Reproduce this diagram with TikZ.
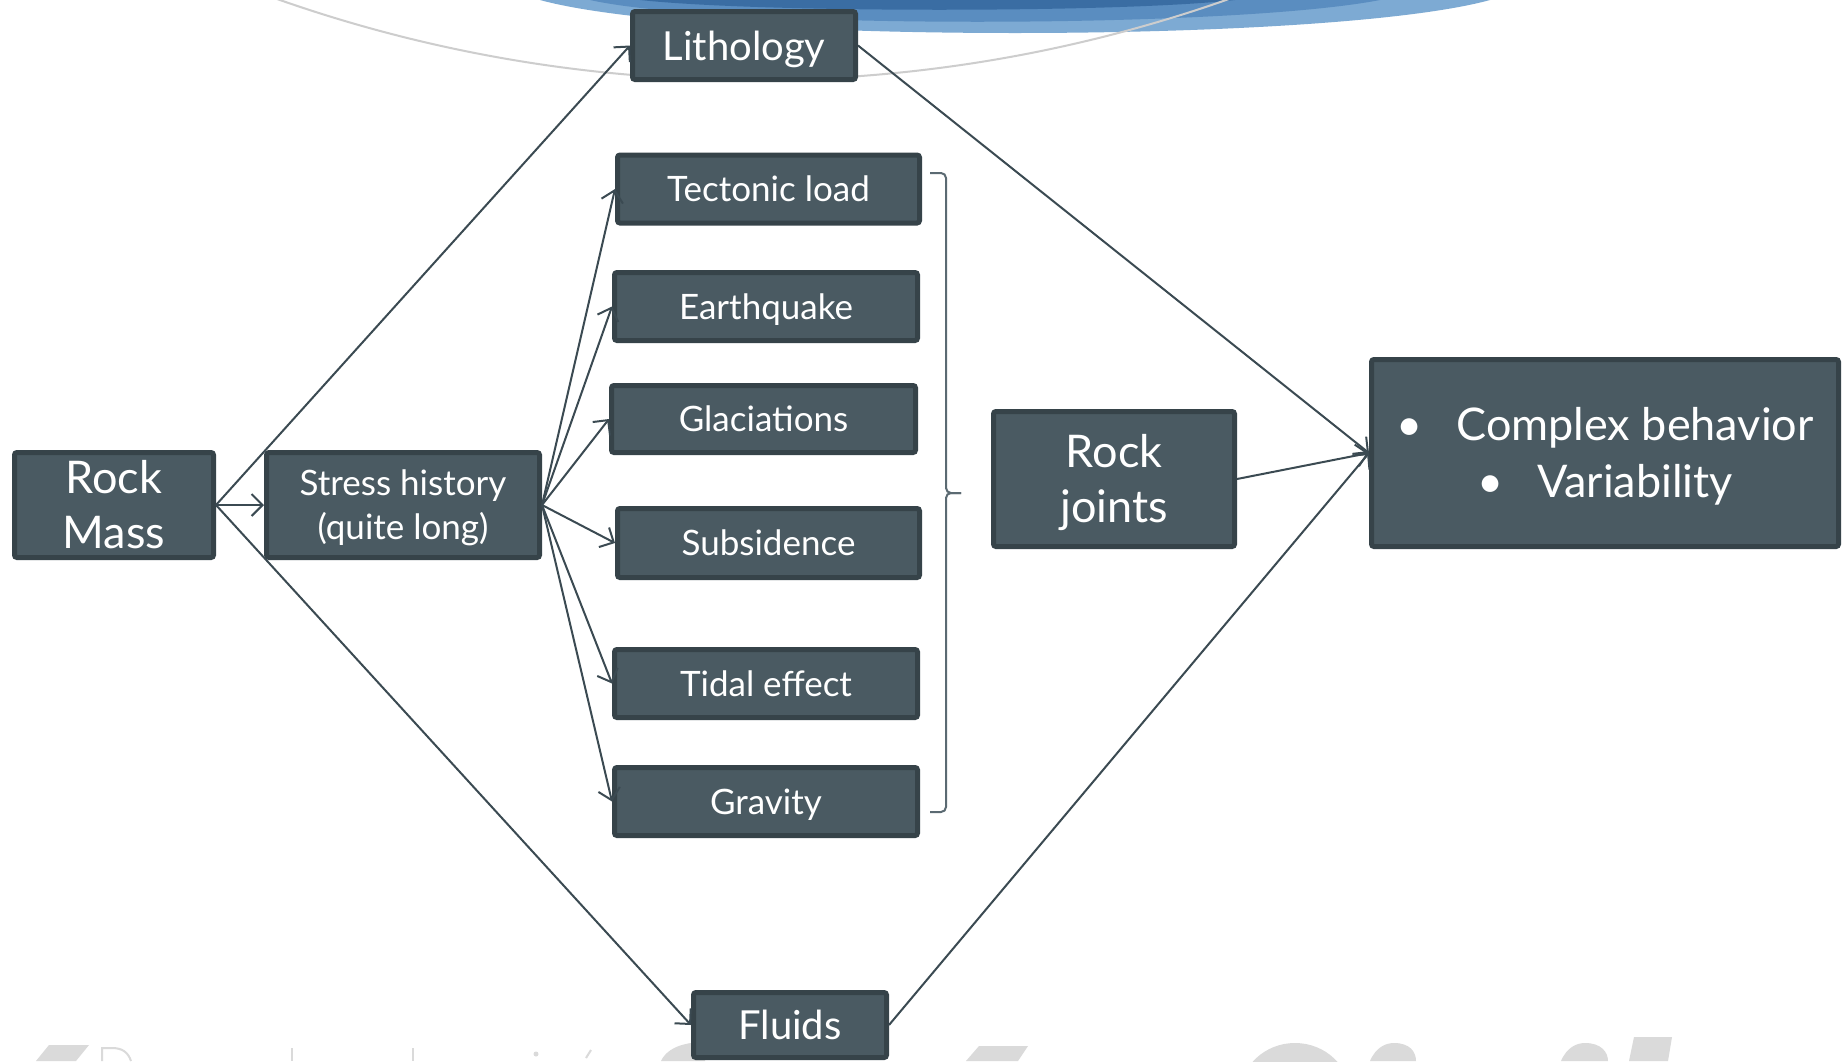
\documentclass[tikz,border=0pt]{standalone}
\usepackage{fontspec}
\setmainfont{Lato}
\usetikzlibrary{arrows.meta}
\definecolor{boxfill}{HTML}{4A5A62}
\definecolor{boxedge}{HTML}{364349}
\definecolor{linecol}{HTML}{3B4A52}
\definecolor{bluelight}{HTML}{7DAAD3}
\definecolor{bluemid}{HTML}{5A8DC0}
\definecolor{bluedark}{HTML}{3A6DA3}
\definecolor{wmgray}{HTML}{DADADA}
\definecolor{ringgray}{HTML}{CDCDCD}
\definecolor{bracecol}{HTML}{5B6A72}
\begin{document}
\begin{tikzpicture}[x=1pt,y=-1pt,
  box/.style={draw=boxedge, fill=boxfill, line width=5pt, rounded corners=2.5pt, inner sep=0pt, text=white, align=center},
  small/.style={box, font=\fontsize{35}{44}\selectfont, text height=25pt, text depth=0pt},
  midf/.style={box, font=\fontsize{40}{48}\selectfont, text height=29pt, text depth=0pt},
  big/.style={box, font=\fontsize{45}{55}\selectfont, text height=32pt, text depth=0pt},
  conn/.style={draw=linecol, line width=2pt, -{Straight Barb[length=11pt,width=22pt]}},
  brace/.style={draw=bracecol, line width=2pt, rounded corners=5pt},
  wm/.style={fill=wmgray}
]
\useasboundingbox (0,0) rectangle (1847,1061);
\clip (0,0) rectangle (1847,1061);
\fill[white] (0,0) rectangle (1847,1061);

% background decoration at the top
\fill[bluelight] (540,0) .. controls (700,44) and (1330,44) .. (1490,0) -- cycle;
\fill[bluemid] (590,0) .. controls (720,29) and (1230,29) .. (1380,0) -- cycle;
\fill[bluedark] (640,0) .. controls (760,13) and (1120,13) .. (1235,0) -- cycle;
\draw[ringgray, line width=2pt] (753,-1352) circle[radius=1432];

% watermark remnants at the bottom
\fill[wm] (49,1045) -- (89,1045) -- (76,1061) -- (36,1061) -- cycle;
\draw[wmgray, line width=2pt] (102,1061) -- (102,1048) -- (112,1048) .. controls (122,1048) and (128,1052) .. (131,1061);
\draw[wmgray, line width=2.5pt] (292,1048) -- (292,1061);
\draw[wmgray, line width=2.5pt] (413,1048) -- (413,1061);
\fill[wm] (536,1054) circle[radius=2.5];
\draw[wmgray, line width=2pt] (591,1050) -- (586,1058);
\fill[wm] (661,1061) .. controls (668,1046) and (688,1042) .. (705,1042) -- (705,1061) -- cycle;
\fill[wm] (979,1046) -- (1028,1046) -- (1018,1061) -- (966,1061) -- cycle;
\fill[wm] (1295,1095) ellipse[x radius=55, y radius=52];
\fill[wm] (1370,1061) .. controls (1376,1047) and (1386,1043) .. (1394,1043) .. controls (1410,1043) and (1416,1052) .. (1416,1061) -- cycle;
\fill[wm] (1561,1061) .. controls (1567,1047) and (1577,1043) .. (1585,1043) .. controls (1601,1043) and (1608,1052) .. (1608,1061) -- cycle;
\fill[wm] (1634,1037) -- (1672,1037) -- (1668,1061) -- (1629,1061) -- cycle;

% nodes
\node[big, text height=87pt, minimum width=199pt, minimum height=105pt] (rock) at (114,505) {Rock\\Mass};
\node[small, text height=69pt, minimum width=273pt, minimum height=105pt] (stress) at (403,505) {Stress history\\(quite long)};
\node[midf, minimum width=223pt, minimum height=68pt] (litho) at (744,45.5) {Lithology};
\node[small, minimum width=302pt, minimum height=68pt] (tect) at (768.5,189) {Tectonic load};
\node[small, minimum width=303pt, minimum height=68pt] (earth) at (766,306.5) {Earthquake};
\node[small, minimum width=304pt, minimum height=67pt] (glac) at (763.5,419) {Glaciations};
\node[small, minimum width=302pt, minimum height=69pt] (subs) at (768.5,543) {Subsidence};
\node[small, minimum width=303pt, minimum height=68pt] (tidal) at (766,683.5) {Tidal effect};
\node[small, minimum width=303pt, minimum height=68pt] (grav) at (766,801.5) {Gravity};
\node[big, text height=87pt, minimum width=241pt, minimum height=135pt] (joints) at (1114,479) {Rock\\joints};
\node[big, font=\fontsize{45}{57}\selectfont, text height=89pt, minimum width=467pt, minimum height=187pt] (complex) at (1605,453) {\textbullet\hspace{34pt}Complex behavior\\\textbullet\hspace{34pt}Variability};
\node[midf, minimum width=193pt, minimum height=65pt] (fluids) at (790,1025) {Fluids};

% bracket
\draw[brace] (930,173) -| (946,493) -- (961,493);
\draw[brace] (961,493) -- (946,493) |- (930,812);

% connectors
\draw[conn] (rock.east) -- (litho.west);
\draw[conn] (rock.east) -- (stress.west);
\draw[conn] (rock.east) -- (fluids.west);
\draw[conn] (stress.east) -- (tect.west);
\draw[conn] (stress.east) -- (earth.west);
\draw[conn] (stress.east) -- (glac.west);
\draw[conn] (stress.east) -- (subs.west);
\draw[conn] (stress.east) -- (tidal.west);
\draw[conn] (stress.east) -- (grav.west);
\draw[conn] (litho.east) -- (complex.west);
\draw[conn] (joints.east) -- (complex.west);
\draw[conn] (fluids.east) -- (complex.west);
\end{tikzpicture}
\end{document}
